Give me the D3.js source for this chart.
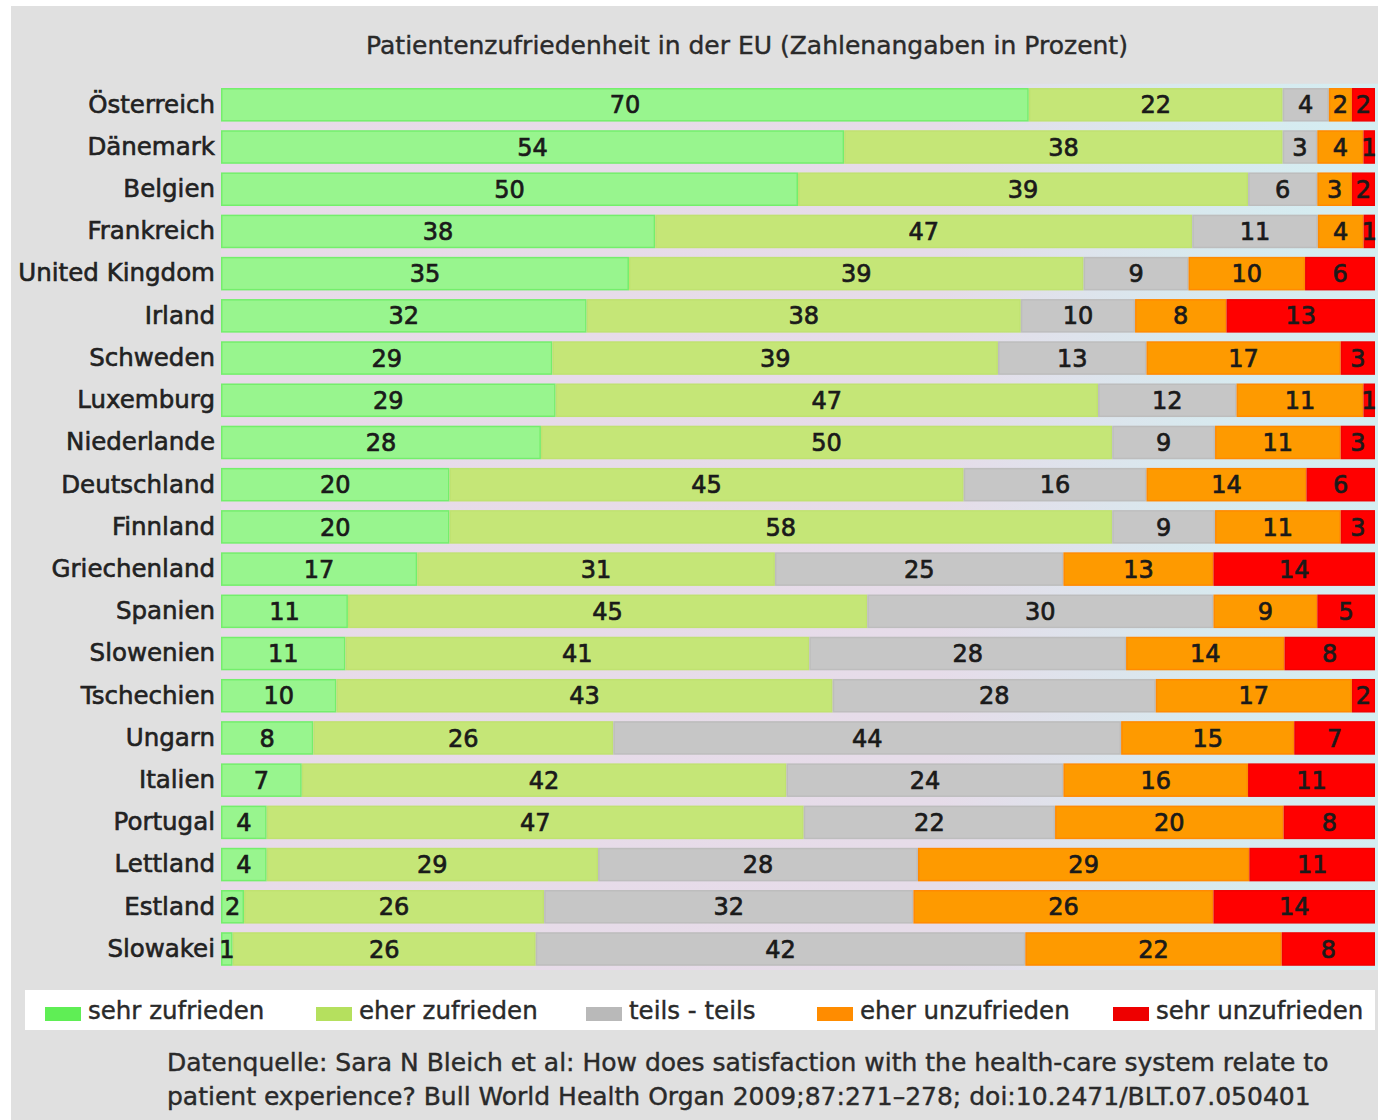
<!DOCTYPE html>
<html>
<head>
<meta charset="utf-8">
<script src="https://cdn.jsdelivr.net/npm/d3@7"></script>
<style>
  html, body { margin: 0; padding: 0; background: #ffffff; }
  svg { display: block; }
  text { font-family: "DejaVu Sans", sans-serif; }
</style>
</head>
<body>
<svg id="chart" width="1378" height="1120"></svg>
<script>
const title = "Patientenzufriedenheit in der EU (Zahlenangaben in Prozent)";
const categories = ["Österreich","Dänemark","Belgien","Frankreich","United Kingdom","Irland","Schweden","Luxemburg","Niederlande","Deutschland","Finnland","Griechenland","Spanien","Slowenien","Tschechien","Ungarn","Italien","Portugal","Lettland","Estland","Slowakei"];
const seriesNames = ["sehr zufrieden","eher zufrieden","teils - teils","eher unzufrieden","sehr unzufrieden"];
const sehrZufrieden   = [70,54,50,38,35,32,29,29,28,20,20,17,11,11,10, 8, 7, 4, 4, 2, 1];
const eherZufrieden   = [22,38,39,47,39,38,39,47,50,45,58,31,45,41,43,26,42,47,29,26,26];
const teilsTeils      = [ 4, 3, 6,11, 9,10,13,12, 9,16, 9,25,30,28,28,44,24,22,28,32,42];
const eherUnzufrieden = [ 2, 4, 3, 4,10, 8,17,11,11,14,11,13, 9,14,17,15,16,20,29,26,22];
const sehrUnzufrieden = [ 2, 1, 2, 1, 6,13, 3, 1, 3, 6, 3,14, 5, 8, 2, 7,11, 8,11,14, 8];
const sourceLines = [
  "Datenquelle: Sara N Bleich et al: How does satisfaction with the health-care system relate to",
  "patient experience? Bull World Health Organ 2009;87:271–278; doi:10.2471/BLT.07.050401"
];

const fillColors   = ["#98f58e","#c5e677","#c6c6c6","#fe9a00","#ff0000"];
const strokeColors = ["#74ee6c","#c0e270","#bdbdbd","#ff8a00","#f20000"];
const legendColors = ["#5fee55","#b5e05e","#b9b9b9","#ff8c00","#ee0000"];

const seriesValues = [sehrZufrieden, eherZufrieden, teilsTeils, eherUnzufrieden, sehrUnzufrieden];
const rows = categories.map((c, i) => {
  const total = d3.sum(seriesValues, s => s[i]);
  const r = { category: c };
  seriesNames.forEach((n, k) => { r[n] = seriesValues[k][i] / total; r[n + "_raw"] = seriesValues[k][i]; });
  return r;
});
const stacked = d3.stack().keys(seriesNames)(rows);

const svg = d3.select("#chart");
const W = 1378, H = 1120;

// panel background
svg.append("rect").attr("x", 11).attr("y", 6).attr("width", W - 11).attr("height", H - 6).attr("fill", "#e0e0e0");

const defs = svg.append("defs");
const grad = defs.append("linearGradient").attr("id", "plotbg").attr("x1", "0%").attr("x2", "100%");
grad.append("stop").attr("offset", "0%").attr("stop-color", "#e8dbe9");
grad.append("stop").attr("offset", "62%").attr("stop-color", "#e6dce9");
grad.append("stop").attr("offset", "82%").attr("stop-color", "#d9e8ee");
grad.append("stop").attr("offset", "100%").attr("stop-color", "#d4eef2");

const x = d3.scaleLinear().domain([0, 1]).range([221, 1375]);
const y = d3.scaleBand().domain(categories).range([83.8, 970]).paddingInner(0.205).paddingOuter(0.1);

// plot background
svg.append("rect").attr("x", x(0)).attr("y", y.range()[0]).attr("width", W - x(0)).attr("height", y.range()[1] - y.range()[0]).attr("fill", "url(#plotbg)");

// title
svg.append("text").attr("x", 747).attr("y", 54).attr("text-anchor", "middle")
  .attr("font-size", 25).attr("fill", "#2a2a2a")
  .attr("stroke", "#2a2a2a").attr("stroke-width", 0.4).text(title);

// bars
const groups = svg.append("g").selectAll("g").data(stacked).join("g")
  .attr("fill", (d, i) => fillColors[i]).attr("stroke", (d, i) => strokeColors[i]);
groups.selectAll("rect").data(d => d).join("rect")
  .attr("x", d => x(d[0]) + 0.75)
  .attr("y", d => y(d.data.category) + 0.75)
  .attr("width", d => Math.max(0, x(d[1]) - x(d[0]) - 1.5))
  .attr("height", y.bandwidth() - 1.5)
  .attr("stroke-width", 1.5);

// value labels
const lbl = svg.append("g");
stacked.forEach((s, k) => {
  lbl.selectAll(null).data(s).join("text")
    .attr("x", d => (x(d[0]) + x(d[1])) / 2)
    .attr("y", d => y(d.data.category) + y.bandwidth() / 2)
    .attr("dy", "0.36em")
    .attr("text-anchor", "middle")
    .attr("font-size", 24)
    .attr("fill", "#1a1a1a")
    .attr("stroke", "#1a1a1a").attr("stroke-width", 0.7)
    .text(d => d.data[s.key + "_raw"]);
});

// category axis
const yAxis = svg.append("g").attr("transform", `translate(${x(0)},0)`)
  .call(d3.axisLeft(y).tickSize(0).tickPadding(6));
yAxis.select(".domain").remove();
yAxis.selectAll("text").attr("font-size", 24.5).attr("fill", "#222")
  .attr("font-family", "DejaVu Sans, sans-serif")
  .attr("stroke", "#222").attr("stroke-width", 0.6);

// legend
const legendX = [45, 316, 586, 817, 1113];
svg.append("rect").attr("x", 25).attr("y", 990).attr("width", 1350).attr("height", 40).attr("fill", "#ffffff");
const leg = svg.append("g").selectAll("g").data(seriesNames).join("g")
  .attr("transform", (d, i) => `translate(${legendX[i]},0)`);
leg.append("rect").attr("x", 0).attr("y", 1007).attr("width", 36).attr("height", 14)
  .attr("fill", (d, i) => legendColors[i]);
leg.append("text").attr("x", 43).attr("y", 1019).attr("font-size", 24.5).attr("fill", "#2a2a2a")
  .attr("stroke", "#2a2a2a").attr("stroke-width", 0.4).text(d => d);

// source
svg.append("g").selectAll("text").data(sourceLines).join("text")
  .attr("x", 167).attr("y", (d, i) => 1071 + i * 34)
  .attr("font-size", 25).attr("fill", "#2a2a2a")
  .attr("stroke", "#2a2a2a").attr("stroke-width", 0.4).text(d => d);
</script>
</body>
</html>
